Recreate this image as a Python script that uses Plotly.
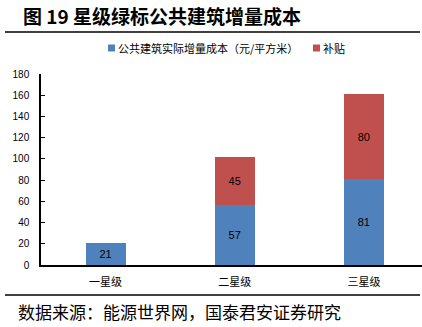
import plotly.graph_objects as go

# Data
categories = ["一星级", "二星级", "三星级"]
cost_values = [21, 57, 81]
subsidy_values = [None, 45, 80]
series_names = ["公共建筑实际增量成本（元/平方米）", "补贴"]
y_ticks = [0, 20, 40, 60, 80, 100, 120, 140, 160, 180]

W, H = 422, 327
L, R, T, B = 41, 0, 74, 62
BLUE = "#4F81BD"
RED = "#C0504D"


def px_x(x):
    return (x - L) / (W - L - R)


def px_y(y):
    return (H - B - y) / (H - T - B)


fig = go.Figure()
fig.add_trace(go.Bar(
    x=categories, y=cost_values, name=series_names[0],
    marker=dict(color=BLUE, line=dict(width=0)),
    width=0.31,
    text=cost_values, textposition="inside", insidetextanchor="middle",
    textfont=dict(family="Liberation Sans, Arial", size=11, color="#000000"),
    showlegend=False,
))
fig.add_trace(go.Bar(
    x=categories, y=subsidy_values, name=series_names[1],
    marker=dict(color=RED, line=dict(width=0)),
    width=0.31,
    text=subsidy_values, textposition="inside", insidetextanchor="middle",
    textfont=dict(family="Liberation Sans, Arial", size=11, color="#000000"),
    showlegend=False,
))

shapes = [
    # rule under the heading
    dict(type="line", xref="paper", yref="paper",
         x0=px_x(5), x1=px_x(420), y0=px_y(32), y1=px_y(32),
         line=dict(color="#000000", width=1.5)),
    # rule above the source note
    dict(type="line", xref="paper", yref="paper",
         x0=px_x(5), x1=px_x(420), y0=px_y(295), y1=px_y(295),
         line=dict(color="#000000", width=1.5)),
    # legend swatches
    dict(type="rect", xref="paper", yref="paper",
         x0=px_x(108), x1=px_x(115), y0=px_y(44.5), y1=px_y(51.5),
         fillcolor=BLUE, line=dict(width=0)),
    dict(type="rect", xref="paper", yref="paper",
         x0=px_x(313), x1=px_x(320), y0=px_y(44.5), y1=px_y(51.5),
         fillcolor=RED, line=dict(width=0)),
]

annotations = [
    dict(text="<b>图 19 星级绿标公共建筑增量成本</b>", xref="paper", yref="paper",
         x=px_x(21), y=px_y(15), xanchor="left", yanchor="middle", showarrow=False,
         font=dict(family="Noto Sans CJK SC", size=19, color="#000000")),
    dict(text=series_names[0], xref="paper", yref="paper",
         x=px_x(116), y=px_y(48), xanchor="left", yanchor="middle", showarrow=False,
         font=dict(family="Noto Sans CJK SC", size=11, color="#000000")),
    dict(text=series_names[1], xref="paper", yref="paper",
         x=px_x(321), y=px_y(48), xanchor="left", yanchor="middle", showarrow=False,
         font=dict(family="Noto Sans CJK SC", size=11, color="#000000")),
    dict(text="数据来源：能源世界网，国泰君安证券研究", xref="paper", yref="paper",
         x=px_x(16), y=px_y(311), xanchor="left", yanchor="middle", showarrow=False,
         font=dict(family="Noto Sans CJK SC", size=17, color="#000000")),
]

fig.update_layout(
    width=W, height=H,
    margin=dict(l=L, r=R, t=T, b=B, pad=0),
    paper_bgcolor="#FFFFFF", plot_bgcolor="#FFFFFF",
    barmode="stack",
    bargap=0.69,
    showlegend=False,
    shapes=shapes,
    annotations=annotations,
    xaxis=dict(
        type="category", range=[-0.5, 2.45],
        showline=True, linecolor="#000000", linewidth=1.5,
        ticks="", showgrid=False, zeroline=False,
        tickfont=dict(family="Noto Sans CJK SC", size=11, color="#000000"),
        ticklabelstandoff=6,
    ),
    yaxis=dict(
        range=[0, 180], tickvals=y_ticks, ticktext=[str(v) for v in y_ticks],
        showline=True, linecolor="#000000", linewidth=1.5,
        ticks="inside", ticklen=4, tickcolor="#000000", tickwidth=1,
        showgrid=False, zeroline=False,
        tickfont=dict(family="Liberation Sans, Arial", size=10, color="#000000"),
        ticklabelstandoff=8,
    ),
)

fig.write_html("out.html")
